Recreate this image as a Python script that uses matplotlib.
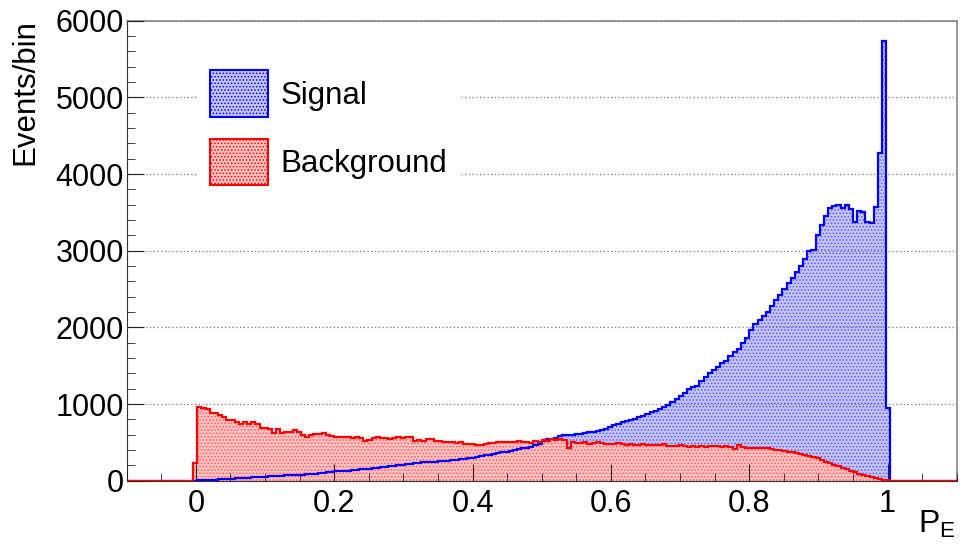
import numpy as np
import matplotlib
matplotlib.use("Agg")
import matplotlib.pyplot as plt
from matplotlib.patches import Patch
from matplotlib.ticker import MultipleLocator

plt.rcParams["font.family"] = ["Liberation Sans", "DejaVu Sans"]
plt.rcParams["mathtext.fontset"] = "custom"
plt.rcParams["mathtext.rm"] = "Liberation Sans"
plt.rcParams["hatch.linewidth"] = 0.7

# histogram binning: 200 bins over [-0.1, 1.1], filled bins start at index 16
x_lo, x_hi, n_bins = -0.1, 1.1, 200
first_bin = 16

signal = [
    2, 5, 8, 10, 13, 15, 18, 20, 24, 26, 30, 31, 35, 38, 42, 44, 48,
    52, 55, 57, 62, 64, 68, 70, 74, 78, 80, 85, 88, 92, 98, 102, 108, 115,
    120, 124, 130, 128, 136, 142, 148, 150, 158, 162, 170, 176, 180, 190, 195, 200, 210,
    218, 222, 228, 232, 238, 240, 245, 250, 255, 258, 262, 268, 272, 280, 285, 295,
    300, 310, 320, 332, 340, 350, 360, 372, 380, 390, 400, 410, 420, 430, 445, 460, 475,
    520, 540, 545, 560, 580, 590, 595, 600, 610, 615, 625, 635, 640, 650, 665, 680, 700,
    720, 740, 760, 775, 790, 810, 830, 850, 870, 895, 910, 935, 960, 990, 1020, 1060, 1110,
    1150, 1190, 1220, 1240, 1300, 1350, 1400, 1440, 1480, 1530, 1560, 1620, 1680, 1720, 1790, 1860, 1960,
    2040, 2100, 2150, 2200, 2280, 2360, 2420, 2500, 2580, 2640, 2720, 2800, 2890, 2990, 3010, 3200,
    3330, 3450, 3560, 3580, 3600, 3560, 3590, 3540, 3380, 3520, 3500, 3370, 3360, 3570, 4270, 5740, 950,
]

background = [
    230,
    955, 950, 940, 880, 880, 855, 835, 790, 790, 770, 740, 770, 740, 760, 745, 685,
    690, 680, 625, 670, 620, 640, 640, 655, 640,
    600, 575, 590, 610, 615, 620, 600, 585,
    565, 565, 570, 565, 560, 565, 560, 520, 535, 560, 565, 555, 560, 540, 555, 570, 560,
    575, 565, 520, 530, 520, 540, 545, 520, 515, 500, 510, 505, 495, 500, 480, 475,
    485, 470, 470, 480, 495, 490, 505, 500, 505, 500, 510, 520, 500, 505, 495, 520, 510,
    530, 520, 540, 525, 545, 525, 430, 500, 495, 490, 500, 485, 490, 500, 495, 480, 485,
    475, 490, 480, 470, 480, 470, 460, 475, 470, 465, 470, 460, 480, 455, 450, 455, 460,
    450, 440, 455, 440, 450, 445, 450, 455, 450, 445, 455, 440, 410, 460, 440, 430, 425,
    420, 420, 430, 420, 410, 400, 395, 390, 380, 370, 360, 350, 330, 320, 310, 290,
    265, 240, 230, 205, 195, 170, 150, 125, 110, 90, 70, 60, 45, 30, 20, 12, 5,
]

labels = ["Signal", "Background"]

edges = np.linspace(x_lo, x_hi, n_bins + 1)


def full_hist(vals):
    h = np.zeros(n_bins)
    h[first_bin:first_bin + len(vals)] = vals
    return h


sig = full_hist(signal)
bkg = full_hist(background)

fig = plt.figure(figsize=(9.6, 5.46), dpi=100)
ax = fig.add_axes([0.132, 0.1196, 0.8646, 0.8425])

blue, blue_fill, blue_dots = "#0000ff", "#c4c4f8", "#5a5aff"
red, red_fill, red_dots = "#ff0000", "#ffc2c2", "#ff5a5a"

ax.stairs(sig, edges, fill=True, facecolor=blue_fill, edgecolor=blue_dots,
          hatch=".....", linewidth=0, zorder=1)
ax.stairs(bkg, edges, fill=True, facecolor=red_fill, edgecolor=red_dots,
          hatch=".....", linewidth=0, zorder=1.1)
ax.stairs(sig, edges, color=blue, linewidth=1.6, zorder=3)
ax.stairs(bkg, edges, color=red, linewidth=1.6, zorder=3.1)

ax.set_xlim(x_lo, x_hi)
ax.set_ylim(0, 6000)

ax.yaxis.grid(True, linestyle=(0, (1, 2)), color="#777777", linewidth=0.9)
ax.set_axisbelow(False)

ax.xaxis.set_major_locator(MultipleLocator(0.2))
ax.xaxis.set_minor_locator(MultipleLocator(0.05))
ax.yaxis.set_major_locator(MultipleLocator(1000))
ax.yaxis.set_minor_locator(MultipleLocator(200))
ax.xaxis.set_major_formatter(plt.FuncFormatter(lambda v, p: f"{v:g}"))
ax.tick_params(which="both", direction="in", labelsize=22, color="#222222")
ax.tick_params(axis="x", which="major", length=12, pad=6)
ax.tick_params(axis="x", which="minor", length=6)
ax.tick_params(axis="y", which="major", length=12, pad=2)
ax.tick_params(axis="y", which="minor", length=6)

for side in ("top", "right"):
    ax.spines[side].set_color("#888888")
    ax.spines[side].set_linewidth(1.2)
for side in ("left", "bottom"):
    ax.spines[side].set_color("#333333")

fig.text(25 / 960, 1 - 19 / 546, "Events/bin", rotation=90, ha="center",
         va="top", fontsize=22.5)
fig.text(956 / 960, 1 - 533 / 546, r"$\mathregular{P_E}$", ha="right",
         va="baseline", fontsize=23)

handles = [
    Patch(facecolor=blue_fill, edgecolor=blue, hatch=".....", linewidth=1.5),
    Patch(facecolor=red_fill, edgecolor=red, hatch=".....", linewidth=1.5),
]
leg = ax.legend(handles, labels, loc="upper left", bbox_to_anchor=(0.0847, 0.919),
                prop={"size": 22.5}, frameon=True, fancybox=False, edgecolor="none",
                facecolor="white", framealpha=1, handlelength=1.86,
                handleheight=1.9, handletextpad=0.4, labelspacing=0.7,
                borderpad=0.4, borderaxespad=0)
leg.set_zorder(5)

fig.savefig("out.png", dpi=100)
